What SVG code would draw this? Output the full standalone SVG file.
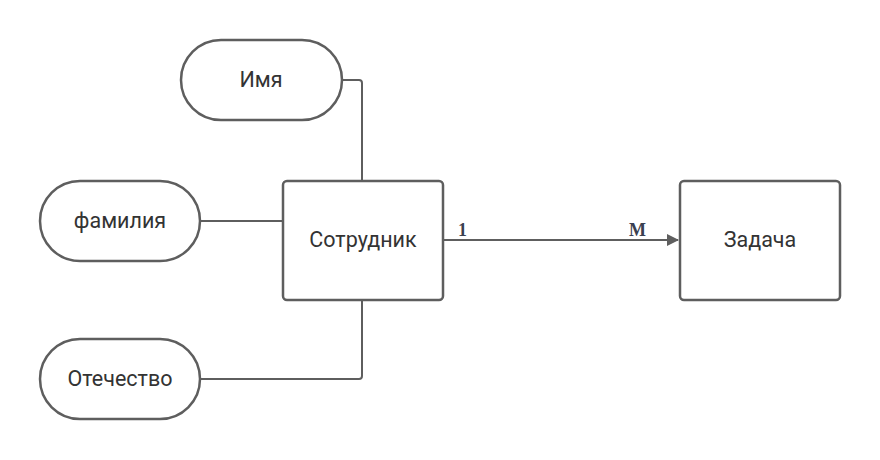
<svg xmlns="http://www.w3.org/2000/svg" width="880" height="460" viewBox="0 0 880 460">
<defs>
<style>
.shape{fill:#ffffff;stroke:#5e5e5e;stroke-width:2.5}
.lbl{font-family:Roboto,"Liberation Sans",sans-serif;font-size:21.5px;fill:#333333;text-anchor:middle;dominant-baseline:central}
.card{font-family:"Liberation Serif","DejaVu Serif",serif;font-size:18px;font-weight:bold;fill:#3a4050}
.conn{fill:none;stroke:#5e5e5e;stroke-width:2}
</style>
<marker id="arr" markerWidth="12" markerHeight="12" refX="11" refY="6" orient="auto" markerUnits="userSpaceOnUse">
<path d="M0,0 L12,6 L0,12 Z" fill="#5e5e5e"/>
</marker>
</defs>
<rect width="880" height="460" fill="#ffffff"/>
<g id="connectors">
<path class="conn" d="M342,80 H359 Q362,80 362,83 V181"/>
<path class="conn" d="M200,221 H283"/>
<path class="conn" d="M200,379 H359 Q362,379 362,376 V300"/>
<path class="conn" d="M443,240 H678" marker-end="url(#arr)"/>
<text class="card" x="458" y="236">1</text>
<text class="card" x="629" y="236">M</text>
</g>
<g id="imya">
<rect class="shape" x="181" y="40" width="161" height="80" rx="40"/>
<text class="lbl" x="261" y="79">Имя</text>
</g>
<g id="familiya">
<rect class="shape" x="40" y="181" width="160" height="80" rx="40"/>
<text class="lbl" x="120" y="220">фамилия</text>
</g>
<g id="otchestvo">
<rect class="shape" x="40" y="339" width="160" height="80" rx="40"/>
<text class="lbl" x="120" y="378">Отечество</text>
</g>
<g id="sotrudnik">
<rect class="shape" x="283" y="181" width="160" height="119" rx="4"/>
<text class="lbl" x="363" y="239">Сотрудник</text>
</g>
<g id="zadacha">
<rect class="shape" x="680" y="181" width="160" height="119" rx="4"/>
<text class="lbl" x="760" y="239">Задача</text>
</g>
</svg>
